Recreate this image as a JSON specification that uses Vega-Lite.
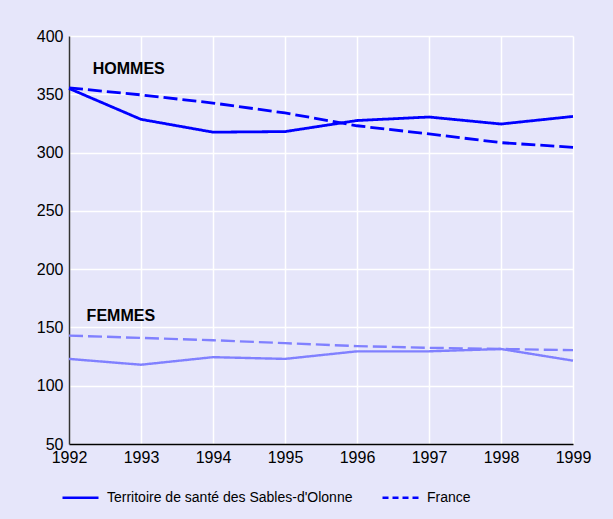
{
  "$schema": "https://vega.github.io/schema/vega-lite/v6.json",
  "autosize": "none",
  "width": 504,
  "height": 408,
  "padding": {"left": 69, "top": 36, "right": 40, "bottom": 75},
  "background": "#e6e6fa",
  "config": {
    "view": {"stroke": null},
    "font": "Liberation Sans",
    "axis": {"grid": true, "gridColor": "#ffffff", "gridWidth": 1.5, "ticks": false, "labelFontSize": 16, "labelColor": "#000000", "labelFont": "Liberation Sans", "title": null, "labelOverlap": false, "labelBound": false, "labelFlush": false}
  },
  "resolve": {"scale": {"strokeDash": "independent"}},
  "datasets": {
    "series": [
      {"annee": 1992, "taux": 355, "sexe": "Hommes", "zone": "Territoire de santé des Sables-d'Olonne"},
      {"annee": 1993, "taux": 328.5, "sexe": "Hommes", "zone": "Territoire de santé des Sables-d'Olonne"},
      {"annee": 1994, "taux": 317.5, "sexe": "Hommes", "zone": "Territoire de santé des Sables-d'Olonne"},
      {"annee": 1995, "taux": 318, "sexe": "Hommes", "zone": "Territoire de santé des Sables-d'Olonne"},
      {"annee": 1996, "taux": 327.5, "sexe": "Hommes", "zone": "Territoire de santé des Sables-d'Olonne"},
      {"annee": 1997, "taux": 330.5, "sexe": "Hommes", "zone": "Territoire de santé des Sables-d'Olonne"},
      {"annee": 1998, "taux": 324.5, "sexe": "Hommes", "zone": "Territoire de santé des Sables-d'Olonne"},
      {"annee": 1999, "taux": 331, "sexe": "Hommes", "zone": "Territoire de santé des Sables-d'Olonne"},
      {"annee": 1992, "taux": 355.5, "sexe": "Hommes", "zone": "France"},
      {"annee": 1993, "taux": 349.5, "sexe": "Hommes", "zone": "France"},
      {"annee": 1994, "taux": 342.5, "sexe": "Hommes", "zone": "France"},
      {"annee": 1995, "taux": 334, "sexe": "Hommes", "zone": "France"},
      {"annee": 1996, "taux": 323, "sexe": "Hommes", "zone": "France"},
      {"annee": 1997, "taux": 316, "sexe": "Hommes", "zone": "France"},
      {"annee": 1998, "taux": 308.5, "sexe": "Hommes", "zone": "France"},
      {"annee": 1999, "taux": 304.5, "sexe": "Hommes", "zone": "France"},
      {"annee": 1992, "taux": 123, "sexe": "Femmes", "zone": "Territoire de santé des Sables-d'Olonne"},
      {"annee": 1993, "taux": 118, "sexe": "Femmes", "zone": "Territoire de santé des Sables-d'Olonne"},
      {"annee": 1994, "taux": 124.5, "sexe": "Femmes", "zone": "Territoire de santé des Sables-d'Olonne"},
      {"annee": 1995, "taux": 123, "sexe": "Femmes", "zone": "Territoire de santé des Sables-d'Olonne"},
      {"annee": 1996, "taux": 129.5, "sexe": "Femmes", "zone": "Territoire de santé des Sables-d'Olonne"},
      {"annee": 1997, "taux": 129.5, "sexe": "Femmes", "zone": "Territoire de santé des Sables-d'Olonne"},
      {"annee": 1998, "taux": 131.5, "sexe": "Femmes", "zone": "Territoire de santé des Sables-d'Olonne"},
      {"annee": 1999, "taux": 121.5, "sexe": "Femmes", "zone": "Territoire de santé des Sables-d'Olonne"},
      {"annee": 1992, "taux": 143, "sexe": "Femmes", "zone": "France"},
      {"annee": 1993, "taux": 141, "sexe": "Femmes", "zone": "France"},
      {"annee": 1994, "taux": 139, "sexe": "Femmes", "zone": "France"},
      {"annee": 1995, "taux": 136.5, "sexe": "Femmes", "zone": "France"},
      {"annee": 1996, "taux": 134, "sexe": "Femmes", "zone": "France"},
      {"annee": 1997, "taux": 132.5, "sexe": "Femmes", "zone": "France"},
      {"annee": 1998, "taux": 131.5, "sexe": "Femmes", "zone": "France"},
      {"annee": 1999, "taux": 130.5, "sexe": "Femmes", "zone": "France"}
    ],
    "labels": [
      {"annee": 1992.83, "taux": 372, "texte": "HOMMES"},
      {"annee": 1992.72, "taux": 160, "texte": "FEMMES"}
    ]
  },
  "layer": [
    {
      "data": {"name": "series"},
      "mark": {"type": "line", "strokeCap": "butt"},
      "encoding": {
        "x": {"field": "annee", "type": "quantitative", "scale": {"domain": [1992, 1999], "nice": false, "zero": false},
              "axis": {"format": "d", "values": [1992,1993,1994,1995,1996,1997,1998,1999], "domainColor": "#000000", "domainWidth": 1.5, "labelPadding": 5}},
        "y": {"field": "taux", "type": "quantitative", "scale": {"domain": [50, 400], "nice": false, "zero": false},
              "axis": {"values": [50,100,150,200,250,300,350,400], "domainColor": "#333333", "domainWidth": 1.5, "labelPadding": 6}},
        "color": {"field": "sexe", "type": "nominal", "scale": {"domain": ["Hommes", "Femmes"], "range": ["#0000ff", "#8080ff"]}, "legend": null},
        "strokeWidth": {"field": "sexe", "type": "nominal", "scale": {"domain": ["Hommes", "Femmes"], "range": [2.8, 2.4]}, "legend": null},
        "strokeDash": {"field": "zone", "type": "nominal",
          "scale": {"domain": ["Territoire de santé des Sables-d'Olonne", "France"], "range": [[1, 0], [14, 5]]},
          "legend": null}
      }
    },
    {
      "data": {"name": "series"},
      "transform": [{"filter": "datum.annee < 0"}],
      "mark": {"type": "line"},
      "encoding": {
        "x": {"field": "annee", "type": "quantitative"},
        "y": {"field": "taux", "type": "quantitative"},
        "strokeDash": {"field": "zone", "type": "nominal",
          "scale": {"domain": ["Territoire de santé des Sables-d'Olonne", "France"], "range": [[1, 0], [6, 4]]},
          "legend": {"title": null, "orient": "none", "direction": "horizontal", "legendX": -8, "legendY": 442,
                     "labelFontSize": 14, "labelColor": "#000000", "labelFont": "Liberation Sans", "labelLimit": 400,
                     "symbolType": "stroke", "symbolSize": 1296,
                     "symbolStrokeColor": "#0000ff", "symbolStrokeWidth": 2.5, "columnPadding": 24, "labelOffset": 7}}
      }
    },
    {
      "data": {"name": "labels"},
      "mark": {"type": "text", "fontWeight": "bold", "fontSize": 16, "font": "Liberation Sans", "color": "#000000"},
      "encoding": {
        "x": {"field": "annee", "type": "quantitative"},
        "y": {"field": "taux", "type": "quantitative"},
        "text": {"field": "texte"}
      }
    }
  ]
}
